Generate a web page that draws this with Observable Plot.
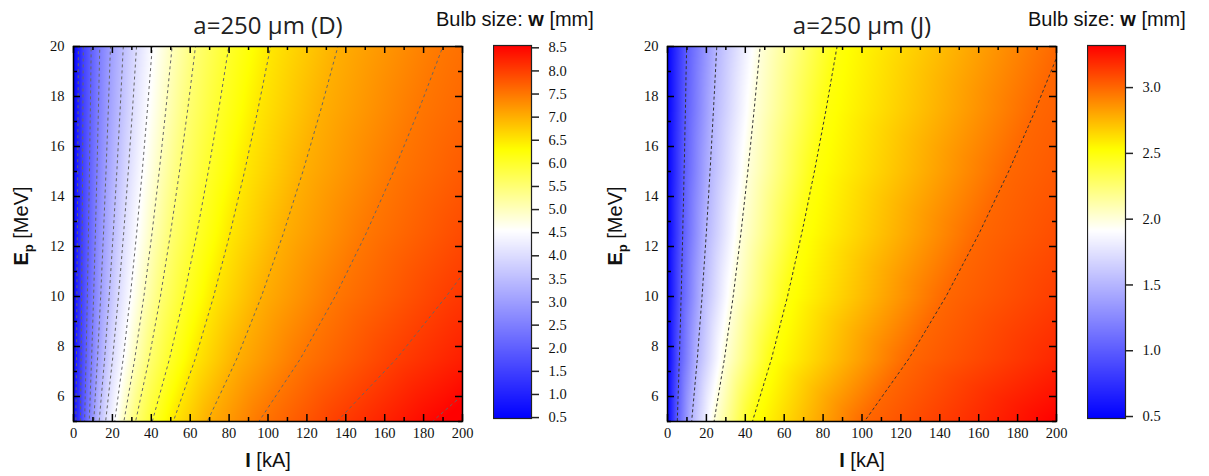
<!DOCTYPE html>
<html><head><meta charset="utf-8">
<script src="https://cdn.jsdelivr.net/npm/d3@7"></script>
<script src="https://cdn.jsdelivr.net/npm/@observablehq/plot@0.6"></script>
<style>
body{margin:0;background:#fff;}
#root{position:relative;width:1209px;height:476px;overflow:hidden;}
#root > div{position:absolute;top:0;}
#overlay{position:absolute;left:0;top:0;pointer-events:none;}
</style></head><body><div id="root"></div>
<script>
// ---- axis ticks ----
const I_TICKS = [0, 20, 40, 60, 80, 100, 120, 140, 160, 180, 200];
const I_MINOR = [10, 30, 50, 70, 90, 110, 130, 150, 170, 190];
const E_TICKS = [6, 8, 10, 12, 14, 16, 18, 20];
const E_MINOR = [5, 7, 9, 11, 13, 15, 17, 19];

// ---- rows of proton energy (MeV) at which the field is read ----
const E_ROWS = [5, 7.5, 10, 12.5, 15, 17.5, 20];

// ---- panel D: contour levels (mm) and current I (kA) where each is crossed, per row ----
const LEVELS_D = [1.0, 1.5, 2.0, 2.5, 3.0, 3.5, 4.0, 4.5, 5.0, 5.5, 6.0, 6.5, 7.0, 7.5, 8.0, 8.5];
const CROSS_D = [
  [1.2, 3.6, 5.7, 8.1, 10.4, 13.2, 16.5, 21.2, 25.9, 31.9, 40.5, 51.3, 68.8, 95.3, 135.5, 184.5],
  [1.49, 3.91, 6.46, 9.31, 12.33, 15.99, 20.07, 25.54, 31.47, 38.82, 49.33, 62.54, 83.88, 116.56, 165.95, null],
  [1.74, 4.18, 7.11, 10.34, 13.96, 18.34, 23.09, 29.19, 36.17, 44.66, 56.78, 72.01, 96.59, 134.48, 191.6, null],
  [1.96, 4.41, 7.68, 11.24, 15.40, 20.41, 25.74, 32.42, 40.31, 49.80, 63.34, 80.36, 107.79, 150.27, null, null],
  [2.15, 4.62, 8.19, 12.05, 16.70, 22.28, 28.14, 35.33, 44.06, 54.45, 69.27, 87.91, 117.92, 164.56, null, null],
  [2.33, 4.82, 8.66, 12.80, 17.89, 24.00, 30.35, 38.01, 47.50, 58.72, 74.72, 94.84, 127.23, 177.68, null, null],
  [2.5, 5.0, 9.1, 13.5, 19.0, 25.6, 32.4, 40.5, 50.7, 62.7, 79.8, 101.3, 135.9, 189.9, null, null]
];
const EDGE0_D = [0.5, 0.5, 0.5, 0.5, 0.5, 0.5, 0.5];          // w at I = 0
const EDGE200_D = [8.66, 8.28, 8.06, 7.89, 7.75, 7.64, 7.56];  // w at I = 200

// ---- panel J ----
const LEVELS_J = [1.0, 1.5, 2.0, 2.5, 3.0];
const CROSS_J = [
  [5.0, 12.4, 23.9, 43.6, 101.2],
  [6.08, 15.30, 29.23, 53.37, 123.94],
  [6.99, 17.74, 33.72, 61.62, 143.12],
  [7.79, 19.90, 37.67, 68.88, 160.01],
  [8.51, 21.84, 41.25, 75.45, 175.29],
  [9.18, 23.63, 44.54, 81.48, 189.32],
  [9.8, 25.3, 47.6, 87.1, null]
];
const EDGE0_J = [0.5, 0.5, 0.5, 0.5, 0.5, 0.5, 0.5];
const EDGE200_J = [3.32, 3.20, 3.13, 3.08, 3.045, 3.018, 2.996];

// ---- colour bars ----
const CB_TICKS_D = [0.5, 1.0, 1.5, 2.0, 2.5, 3.0, 3.5, 4.0, 4.5, 5.0, 5.5, 6.0, 6.5, 7.0, 7.5, 8.0, 8.5];
const CB_TICKS_J = [0.5, 1.0, 1.5, 2.0, 2.5, 3.0];
const CB_DOMAIN_D = [0.48, 4.55, 6.3, 8.55];
const CB_DOMAIN_J = [0.485, 1.915, 2.53, 3.32];
const CB_COLORS = ["#0000ff", "#ffffff", "#ffff00", "#ff0000"];

const TITLES = ["a=250 μm (D)", "a=250 μm (J)"];
const SERIF = "Liberation Serif";

function samples(levels, cross, edge0, edge200) {
  const pts = [];
  E_ROWS.forEach((E, r) => {
    pts.push({I: 0, E, w: edge0[r]});
    levels.forEach((L, k) => { const I = cross[r][k]; if (I != null) pts.push({I, E, w: L}); });
    pts.push({I: 200, E, w: edge200[r]});
  });
  return pts;
}

const FW = 389, FH = 375;
function mainPlot(pts, domain, levels, cStroke, dash) {
  return Plot.plot({
    width: 480, height: 476, marginLeft: 73, marginRight: 18, marginTop: 46, marginBottom: 55,
    x: {domain: [0, 200]}, y: {domain: [5, 20]},
    color: {type: "linear", domain: domain, range: CB_COLORS, clamp: true},
    style: {fontSize: "14.5px", color: "#111", background: "transparent"},
    marks: [
      Plot.raster(pts, {x: "I", y: "E", fill: "w", interpolate: "barycentric", x1: 0, x2: 200, y1: 5, y2: 20, pixelSize: 1}),
      Plot.contour(pts, {x: "I", y: "E", value: "w", interpolate: "barycentric", x1: 0, x2: 200, y1: 5, y2: 20, pixelSize: 1,
        thresholds: levels, fill: "none", stroke: cStroke, strokeWidth: 1, strokeDasharray: dash}),
      Plot.tickX(I_TICKS, {x: d => d, insetTop: FH - 7, stroke: "#000", strokeWidth: 1.5}),
      Plot.tickX(I_MINOR, {x: d => d, insetTop: FH - 4, stroke: "#000", strokeWidth: 1.5}),
      Plot.tickX(I_TICKS, {x: d => d, insetBottom: FH - 7, stroke: "#000", strokeWidth: 1.5}),
      Plot.tickX(I_MINOR, {x: d => d, insetBottom: FH - 4, stroke: "#000", strokeWidth: 1.5}),
      Plot.tickY(E_TICKS, {y: d => d, insetRight: FW - 7, stroke: "#000", strokeWidth: 1.5}),
      Plot.tickY(E_MINOR, {y: d => d, insetRight: FW - 4, stroke: "#000", strokeWidth: 1.5}),
      Plot.tickY(E_TICKS, {y: d => d, insetLeft: FW - 7, stroke: "#000", strokeWidth: 1.5}),
      Plot.tickY(E_MINOR, {y: d => d, insetLeft: FW - 4, stroke: "#000", strokeWidth: 1.5}),
      Plot.frame({stroke: "#000", strokeWidth: 1.5}),
      Plot.axisX({ticks: I_TICKS, tickSize: 0, tickPadding: 6, label: null, fontSize: 14.5}),
      Plot.axisY({ticks: E_TICKS, tickSize: 0, tickPadding: 9, label: null, fontSize: 14.5})
    ]
  });
}

function colorBar(domain, ticks) {
  const lo = domain[0], hi = domain[domain.length - 1];
  return Plot.plot({
    width: 120, height: 476, marginLeft: 0, marginRight: 82, marginTop: 45, marginBottom: 58,
    x: {domain: [0, 1], axis: null}, y: {domain: [lo, hi]},
    color: {type: "linear", domain: domain, range: CB_COLORS, clamp: true},
    style: {fontSize: "14.5px", color: "#111", background: "transparent"},
    marks: [
      Plot.raster({fill: (x, y) => y, x1: 0, x2: 1, y1: lo, y2: hi, pixelSize: 1}),
      Plot.frame({stroke: "#222", strokeWidth: 1.2}),
      Plot.axisY({anchor: "right", ticks: ticks, tickSize: 7, tickPadding: 10, label: null,
        tickFormat: d => d.toFixed(1), stroke: "#222", strokeWidth: 1.5, fontSize: 14.5})
    ]
  });
}

const root = document.getElementById("root");
function place(el, left) {
  // tick labels in a serif face (set on every text node)
  el.querySelectorAll("text").forEach(t => {
    t.setAttribute("font-family", SERIF);
    t.style.fontFamily = "'Liberation Serif'";
    t.style.fontVariantNumeric = "normal";
  });
  const d = document.createElement("div"); d.style.left = left + "px"; d.appendChild(el); root.appendChild(d);
}

place(mainPlot(samples(LEVELS_D, CROSS_D, EDGE0_D, EDGE200_D), CB_DOMAIN_D, LEVELS_D, "#666", "3,3"), 0);
place(colorBar(CB_DOMAIN_D, CB_TICKS_D), 493);
place(mainPlot(samples(LEVELS_J, CROSS_J, EDGE0_J, EDGE200_J), CB_DOMAIN_J, LEVELS_J, "#333", "3,2.5"), 594);
place(colorBar(CB_DOMAIN_J, CB_TICKS_J), 1087);

// ---- text overlay ----
const NS = "http://www.w3.org/2000/svg";
const ov = document.createElementNS(NS, "svg");
ov.setAttribute("id", "overlay"); ov.setAttribute("width", 1209); ov.setAttribute("height", 476);
let html = "";
[0, 594].forEach((off, i) => {
  html += `<text x="${268 + off}" y="34" text-anchor="middle" font-family="Open Sans" font-size="24" fill="#222">${TITLES[i]}</text>`;
  html += `<text x="${268 + off}" y="467" text-anchor="middle" font-family="Liberation Sans" font-size="20" fill="#111"><tspan font-weight="bold">I</tspan> [kA]</text>`;
  html += `<text transform="translate(${28 + off},226) rotate(-90)" text-anchor="middle" font-family="Liberation Sans" font-size="20" fill="#111"><tspan font-weight="bold">E</tspan><tspan font-weight="bold" font-size="13" dy="5">p</tspan><tspan dy="-5"> [MeV]</tspan></text>`;
});
html += `<text x="436" y="26" font-family="Liberation Sans" font-size="20" fill="#111">Bulb size: <tspan font-weight="bold">w</tspan> [mm]</text>`;
html += `<text x="1028" y="26" font-family="Liberation Sans" font-size="20" fill="#111">Bulb size: <tspan font-weight="bold">w</tspan> [mm]</text>`;
ov.innerHTML = html;
root.appendChild(ov);
</script>
</body></html>
